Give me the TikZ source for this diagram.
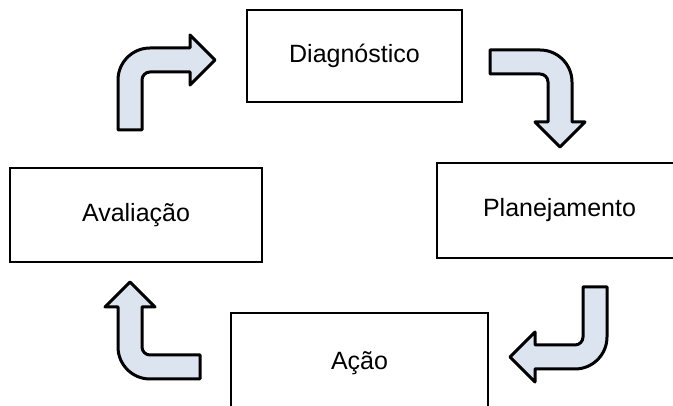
\documentclass[tikz,border=0pt]{standalone}
\usepackage{fontspec}
\setmainfont{Liberation Sans}
\usepackage{tikz}
\definecolor{setacor}{RGB}{220,228,240}

\begin{document}
\begin{tikzpicture}[x=1pt,y=1pt,
        etapa/.style={draw, line width=1.7pt, inner sep=0pt, font=\fontsize{25}{30}\selectfont},
        seta/.pic={\draw[line width=3pt, line join=round, fill=setacor]
            (0,0) -- (0,50) arc[start angle=180, end angle=90, radius=32]
            -- (72,82) -- (72,95) -- (97,70) -- (72,45) -- (72,58)
            -- (32,58) arc[start angle=90, end angle=180, radius=8]
            -- (24,0) -- cycle;}]
        \useasboundingbox (0,0) rectangle (673,406);
        \node[etapa, minimum width=215pt, minimum height=92pt] (diag) at (354.5,350) {Diagnóstico};
        \node[etapa, minimum width=245pt, minimum height=95pt] (plan) at (559.5,195.5) {Planejamento};
        \node[etapa, minimum width=257pt, minimum height=100pt] (acao) at (359.5,43) {Ação};
        \node[etapa, minimum width=252pt, minimum height=94pt] (aval) at (136,191) {Avaliação};
        \foreach \rot/\px/\py in {0/118/276, -90/490/356, 180/607/119, 90/200/27}
        \pic[rotate=\rot] at (\px,\py) {seta};
    \end{tikzpicture}
\end{document}
